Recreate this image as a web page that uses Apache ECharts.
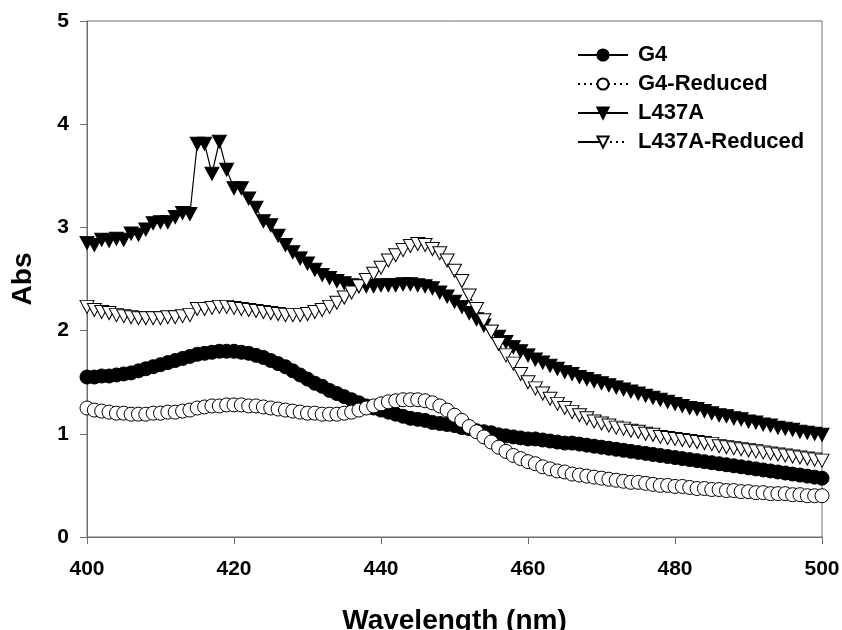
<!DOCTYPE html>
<html>
<head>
<meta charset="utf-8">
<script src="https://cdn.jsdelivr.net/npm/echarts@6/dist/echarts.min.js"></script>
<style>
  html, body { margin: 0; padding: 0; background: #fff; }
  #chart { width: 842px; height: 630px; }
</style>
</head>
<body>
<div id="chart"></div>
<script>
// Wavelength scan 400–500 nm, 1 nm steps
const wavelengths = [];
for (let w = 400; w <= 500; w++) wavelengths.push(w);

const g4 = [
  1.55, 1.55, 1.56, 1.56, 1.57, 1.58, 1.59, 1.61, 1.63, 1.65,
  1.67, 1.69, 1.71, 1.73, 1.75, 1.77, 1.78, 1.79, 1.80, 1.80,
  1.80, 1.79, 1.78, 1.76, 1.74, 1.71, 1.68, 1.65, 1.61, 1.57,
  1.53, 1.49, 1.46, 1.42, 1.39, 1.36, 1.33, 1.30, 1.27, 1.25,
  1.23, 1.21, 1.19, 1.17, 1.15, 1.14, 1.13, 1.11, 1.10, 1.09,
  1.08, 1.06, 1.05, 1.03, 1.02, 1.01, 0.99, 0.98, 0.97, 0.96,
  0.95, 0.95, 0.94, 0.93, 0.92, 0.91, 0.91, 0.90, 0.89, 0.88,
  0.87, 0.86, 0.85, 0.84, 0.83, 0.82, 0.81, 0.80, 0.79, 0.78,
  0.77, 0.76, 0.75, 0.74, 0.73, 0.72, 0.71, 0.70, 0.69, 0.68,
  0.67, 0.66, 0.65, 0.64, 0.63, 0.62, 0.61, 0.60, 0.59, 0.58,
  0.57
];

const g4Reduced = [
  1.25, 1.23, 1.22, 1.21, 1.20, 1.20, 1.19, 1.19, 1.19, 1.20,
  1.20, 1.21, 1.21, 1.22, 1.23, 1.25, 1.26, 1.27, 1.27, 1.28,
  1.28, 1.28, 1.27, 1.27, 1.26, 1.25, 1.24, 1.23, 1.22, 1.21,
  1.20, 1.20, 1.19, 1.19, 1.19, 1.20, 1.21, 1.23, 1.25, 1.27,
  1.29, 1.31, 1.32, 1.33, 1.33, 1.33, 1.32, 1.30, 1.27, 1.23,
  1.18, 1.13, 1.07, 1.02, 0.97, 0.92, 0.87, 0.83, 0.79, 0.76,
  0.73, 0.71, 0.68, 0.66, 0.64, 0.63, 0.61, 0.60, 0.59, 0.58,
  0.57, 0.56, 0.55, 0.54, 0.53, 0.53, 0.52, 0.51, 0.50, 0.50,
  0.49, 0.49, 0.48, 0.47, 0.47, 0.46, 0.46, 0.45, 0.45, 0.44,
  0.44, 0.43, 0.43, 0.42, 0.42, 0.42, 0.41, 0.41, 0.40, 0.40,
  0.40
];

const l437a = [
  2.85, 2.83, 2.88, 2.87, 2.89, 2.88, 2.94, 2.93, 2.98, 3.04,
  3.05, 3.05, 3.10, 3.14, 3.13, 3.81, 3.81, 3.52, 3.83, 3.56,
  3.38, 3.38, 3.28, 3.19, 3.06, 3.02, 2.92, 2.83, 2.76, 2.70,
  2.65, 2.59, 2.54, 2.51, 2.48, 2.46, 2.44, 2.43, 2.43, 2.43,
  2.44, 2.44, 2.44, 2.45, 2.45, 2.44, 2.43, 2.41, 2.37, 2.33,
  2.28, 2.23, 2.17, 2.11, 2.05, 1.99, 1.94, 1.89, 1.84, 1.80,
  1.76, 1.72, 1.69, 1.66, 1.63, 1.60, 1.58, 1.55, 1.53, 1.51,
  1.49, 1.47, 1.45, 1.43, 1.41, 1.39, 1.37, 1.35, 1.33, 1.31,
  1.29, 1.27, 1.25, 1.24, 1.22, 1.20, 1.18, 1.17, 1.15, 1.14,
  1.12, 1.11, 1.09, 1.08, 1.06, 1.05, 1.04, 1.02, 1.01, 1.00,
  0.99
];

const l437aReduced = [
  2.23, 2.20, 2.18, 2.17, 2.15, 2.14, 2.13, 2.12, 2.12, 2.12,
  2.12, 2.13, 2.13, 2.14, 2.15, 2.21, 2.21, 2.22, 2.23, 2.23,
  2.22, 2.21, 2.20, 2.19, 2.18, 2.17, 2.16, 2.15, 2.15, 2.15,
  2.16, 2.18, 2.20, 2.23, 2.27, 2.32, 2.37, 2.43, 2.49, 2.55,
  2.61, 2.68, 2.73, 2.78, 2.82, 2.84, 2.83, 2.79, 2.75, 2.68,
  2.58, 2.48, 2.34, 2.21, 2.10, 1.99, 1.87, 1.76, 1.68, 1.58,
  1.50, 1.44, 1.39, 1.34, 1.29, 1.25, 1.21, 1.18, 1.15, 1.12,
  1.10, 1.08, 1.06, 1.05, 1.03, 1.02, 1.00, 0.99, 0.97, 0.96,
  0.95, 0.94, 0.93, 0.92, 0.91, 0.90, 0.88, 0.87, 0.86, 0.85,
  0.84, 0.83, 0.82, 0.81, 0.80, 0.79, 0.78, 0.77, 0.76, 0.75,
  0.74
];

const seriesNames = ['G4', 'G4-Reduced', 'L437A', 'L437A-Reduced'];

const FONT = '"Liberation Sans", Arial, sans-serif';
const AXIS_GRAY = '#6e6e6e';

function pairs(ys) {
  return wavelengths.map((w, i) => [w, ys[i]]);
}

function makeSeries(name, ys, symbol, filled, lineType) {
  return {
    name: name,
    type: 'line',
    data: pairs(ys),
    symbol: symbol,
    symbolSize: symbol === 'circle' ? 14 : [14, 13],
    symbolRotate: symbol === 'triangle' ? 180 : 0,
    showAllSymbol: true,
    animation: false,
    lineStyle: { color: '#000', width: 1.2, type: lineType },
    itemStyle: {
      color: filled ? '#000' : '#fff',
      borderColor: '#000',
      borderWidth: 1
    },
    emphasis: { disabled: true }
  };
}

const chart = echarts.init(document.getElementById('chart'), null, { renderer: 'canvas' });

chart.setOption({
  backgroundColor: '#fff',
  animation: false,
  grid: {
    left: 87, right: 20, top: 21, bottom: 93,
    outerBoundsMode: 'none',
    containLabel: false,
    show: true, borderColor: AXIS_GRAY, borderWidth: 1
  },
  legend: {
    orient: 'vertical',
    left: 572, top: 39,
    itemWidth: 50, itemHeight: 14, itemGap: 7,
    data: seriesNames,
    textStyle: {
      fontFamily: FONT, fontWeight: 'bold', fontSize: 22, color: '#000',
      padding: [0, 0, 0, 5]
    },
    selectedMode: false
  },
  xAxis: {
    type: 'value',
    min: 400, max: 500, interval: 20,
    name: 'Wavelength (nm)',
    nameLocation: 'middle',
    nameGap: 70,
    nameTextStyle: { fontFamily: FONT, fontWeight: 'bold', fontSize: 28, color: '#000' },
    axisLine: { show: true, lineStyle: { color: AXIS_GRAY, width: 1 } },
    axisTick: { show: true, inside: false, length: 7, lineStyle: { color: AXIS_GRAY } },
    axisLabel: { fontFamily: FONT, fontWeight: 'bold', fontSize: 21, color: '#000', margin: 22 },
    splitLine: { show: false }
  },
  yAxis: {
    type: 'value',
    min: 0, max: 5, interval: 1,
    name: 'Abs',
    nameLocation: 'middle',
    nameGap: 50,
    nameTextStyle: { fontFamily: FONT, fontWeight: 'bold', fontSize: 28, color: '#000' },
    axisLine: { show: true, lineStyle: { color: AXIS_GRAY, width: 1 } },
    axisTick: { show: true, inside: false, length: 7, lineStyle: { color: AXIS_GRAY } },
    axisLabel: { fontFamily: FONT, fontWeight: 'bold', fontSize: 21, color: '#000', margin: 18 },
    splitLine: { show: false }
  },
  series: [
    makeSeries('G4', g4, 'circle', true, 'solid'),
    makeSeries('G4-Reduced', g4Reduced, 'circle', false, [2, 4]),
    makeSeries('L437A', l437a, 'triangle', true, 'solid'),
    makeSeries('L437A-Reduced', l437aReduced, 'triangle', false, [22, 4, 2, 4, 2, 4, 2, 4, 2, 4])
  ]
});
</script>
</body>
</html>
